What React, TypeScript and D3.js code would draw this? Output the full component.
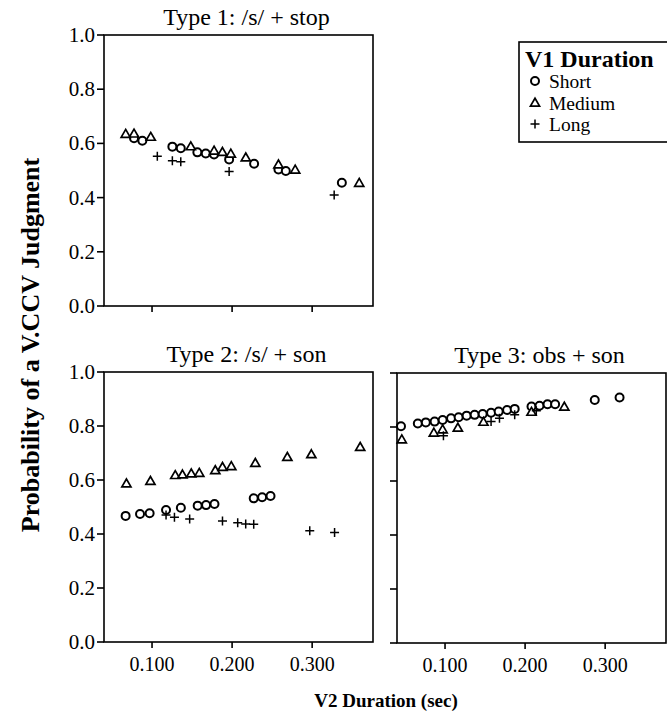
import React from 'react';
import * as d3 from 'd3';

// V2 duration (sec), probability of a V.CCV judgment
const type1Short = [
  [0.0775, 0.619], [0.0879, 0.61], [0.1254, 0.588], [0.1359, 0.582], [0.1566, 0.567],
  [0.1671, 0.563], [0.1775, 0.559], [0.1963, 0.541], [0.2275, 0.525], [0.2579, 0.504],
  [0.2671, 0.498], [0.3371, 0.455],
];
const type1Medium = [
  [0.0671, 0.636], [0.0775, 0.637], [0.0984, 0.625], [0.1484, 0.59], [0.1775, 0.574],
  [0.1879, 0.569], [0.1984, 0.563], [0.2171, 0.549], [0.2579, 0.523], [0.2788, 0.504],
  [0.3588, 0.455],
];
const type1Long = [
  [0.1066, 0.553], [0.1254, 0.536], [0.1359, 0.532], [0.1963, 0.496], [0.3275, 0.41],
];

const type2Short = [
  [0.067, 0.467], [0.085, 0.474], [0.097, 0.477], [0.1175, 0.489], [0.136, 0.497],
  [0.157, 0.505], [0.1675, 0.507], [0.178, 0.511], [0.227, 0.532], [0.2375, 0.536],
  [0.248, 0.541],
];
const type2Medium = [
  [0.068, 0.588], [0.098, 0.597], [0.129, 0.619], [0.138, 0.621], [0.149, 0.625],
  [0.159, 0.627], [0.179, 0.637], [0.188, 0.649], [0.199, 0.652], [0.229, 0.664],
  [0.269, 0.686], [0.299, 0.696], [0.36, 0.723],
];
const type2Long = [
  [0.1175, 0.47], [0.128, 0.462], [0.147, 0.456], [0.188, 0.448], [0.207, 0.442],
  [0.217, 0.437], [0.227, 0.436], [0.297, 0.412], [0.328, 0.406],
];

const type3Short = [
  [0.045, 0.803], [0.066, 0.813], [0.076, 0.817], [0.087, 0.82], [0.097, 0.826],
  [0.1075, 0.832], [0.117, 0.836], [0.127, 0.842], [0.137, 0.845], [0.147, 0.848],
  [0.1575, 0.853], [0.167, 0.857], [0.1775, 0.863], [0.187, 0.867], [0.208, 0.876],
  [0.218, 0.879], [0.228, 0.884], [0.2375, 0.884], [0.287, 0.9], [0.318, 0.909],
];
const type3Medium = [
  [0.046, 0.755], [0.086, 0.78], [0.097, 0.792], [0.116, 0.798], [0.148, 0.82],
  [0.208, 0.857], [0.249, 0.876],
];
const type3Long = [
  [0.098, 0.768], [0.1575, 0.82], [0.168, 0.832], [0.187, 0.845], [0.214, 0.86],
];

const xTicks = [0.1, 0.2, 0.3];
const yTicks = [0, 0.2, 0.4, 0.6, 0.8, 1.0];
const legendLabels = ['Short', 'Medium', 'Long'];

const font = '"Liberation Serif", "Times New Roman", serif';

const panels = [
  { title: 'Type 1: /s/ + stop', left: 104, top: 35, w: 269, h: 271, xLabels: false, yLabels: true,
    series: [type1Short, type1Medium, type1Long] },
  { title: 'Type 2: /s/ + son', left: 104, top: 372, w: 269, h: 270, xLabels: true, yLabels: true,
    series: [type2Short, type2Medium, type2Long] },
  { title: 'Type 3: obs + son', left: 397, top: 373, w: 269, h: 270, xLabels: true, yLabels: false,
    series: [type3Short, type3Medium, type3Long] },
];

const triangle = d3.symbol().type(d3.symbolTriangle).size(36)();

function Marker({ kind, x, y }) {
  if (kind === 0) return <circle cx={x} cy={y} r={4} fill="white" stroke="black" strokeWidth={2} />;
  if (kind === 1) return <path d={triangle} transform={`translate(${x},${y + 1})`} fill="white" stroke="black" strokeWidth={1.7} />;
  return <path d={`M${x - 4.5},${y}H${x + 4.5}M${x},${y - 4.5}V${y + 4.5}`} stroke="black" strokeWidth={1.5} />;
}

function Panel({ p }) {
  const x = d3.scaleLinear().domain([0.04, 0.376]).range([0, p.w]);
  const y = d3.scaleLinear().domain([0, 1]).range([p.h, 0]);
  const tickFmt = d3.format('.3f');
  return (
    <g transform={`translate(${p.left},${p.top})`}>
      <text x={p.w / 2 + 8} y={-10} textAnchor="middle" fontSize={24} fontFamily={font}>{p.title}</text>
      <rect x={0} y={0} width={p.w} height={p.h} fill="none" stroke="black" strokeWidth={1.6} />
      {yTicks.map((t) => (
        <g key={t} transform={`translate(0,${y(t)})`}>
          <line x1={-7} x2={0} stroke="black" strokeWidth={1.6} />
          {p.yLabels && (
            <text x={-9} dy="0.33em" textAnchor="end" fontSize={21} fontFamily={font}>{t.toFixed(1)}</text>
          )}
        </g>
      ))}
      {xTicks.map((t) => (
        <g key={t} transform={`translate(${x(t)},${p.h})`}>
          <line y1={0} y2={6} stroke="black" strokeWidth={1.6} />
          {p.xLabels && (
            <text y={29} textAnchor="middle" fontSize={20} fontFamily={font}>{tickFmt(t)}</text>
          )}
        </g>
      ))}
      {p.series.map((pts, k) =>
        pts.map((d, i) => <Marker key={`${k}-${i}`} kind={k} x={x(d[0])} y={y(d[1])} />)
      )}
    </g>
  );
}

export default function App() {
  return (
    <div style={{ position: 'absolute', left: 0, top: 0 }}>
      <svg width={667} height={723} style={{ display: 'block', background: 'white' }}>
        {panels.map((p) => <Panel key={p.title} p={p} />)}

        {/* legend, box runs off the right edge like the scan */}
        <g transform="translate(519,42)">
          <rect x={0} y={0} width={160} height={100} fill="white" stroke="black" strokeWidth={1.6} />
          <text x={6} y={25} fontSize={24} fontWeight="bold" fontFamily={font}>V1 Duration</text>
          {legendLabels.map((lab, i) => (
            <g key={lab}>
              <Marker kind={i} x={16} y={39 + i * 21.5} />
              <text x={30} y={46 + i * 21.5} fontSize={19.5} fontFamily={font}>{lab}</text>
            </g>
          ))}
        </g>

        <text transform="translate(39,345) rotate(-90)" textAnchor="middle" fontSize={26} fontWeight="bold"
          fontFamily={font}>
          Probability of a V.CCV Judgment
        </text>
        <text x={386} y={707} textAnchor="middle" fontSize={19} fontWeight="bold" fontFamily={font}>
          V2 Duration (sec)
        </text>
      </svg>
    </div>
  );
}
